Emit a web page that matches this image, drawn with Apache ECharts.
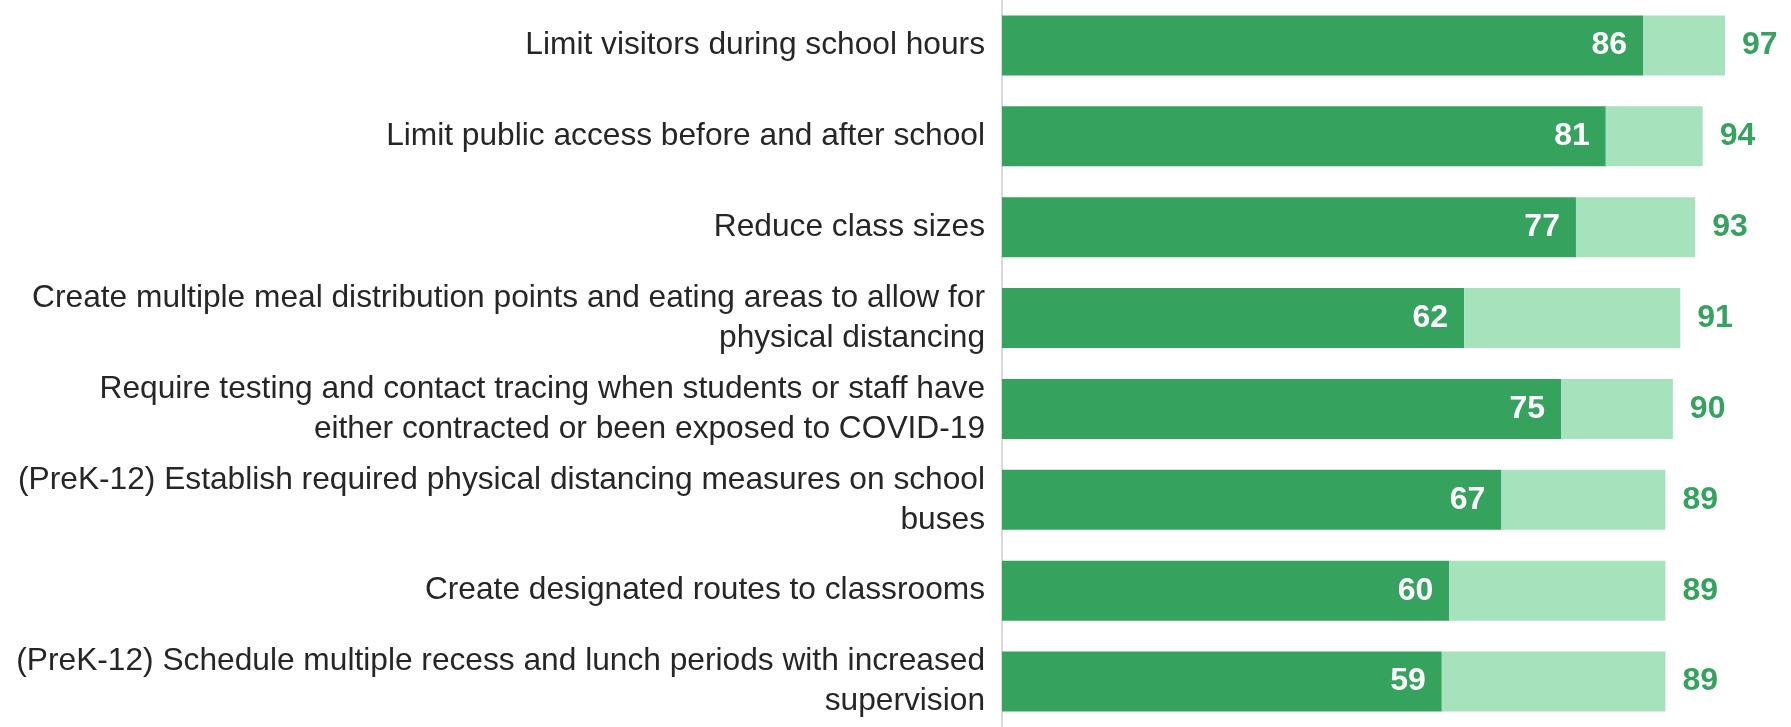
<!DOCTYPE html>
<html>
<head>
<meta charset="utf-8">
<script src="https://cdn.jsdelivr.net/npm/echarts@6/dist/echarts.min.js"></script>
<style>
  html, body { margin: 0; padding: 0; background: #fff; }
  #chart { width: 1791px; height: 727px; }
</style>
</head>
<body>
<div id="chart"></div>
<script>
// categories, top to bottom
const categories = [
  'Limit visitors during school hours',
  'Limit public access before and after school',
  'Reduce class sizes',
  'Create multiple meal distribution points and eating areas to allow for\nphysical distancing',
  'Require testing and contact tracing when students or staff have\neither contracted or been exposed to COVID-19',
  '(PreK-12) Establish required physical distancing measures on school\nbuses',
  'Create designated routes to classrooms',
  '(PreK-12) Schedule multiple recess and lunch periods with increased\nsupervision'
]
const strongValues = [86, 81, 77, 62, 75, 67, 60, 59]
const totalValues = [97, 94, 93, 91, 90, 89, 89, 89]

const DARK = '#35a25e'
const LIGHT = '#a6e2bc'
const FONT = 'Liberation Sans, Arial, sans-serif'

const chart = echarts.init(document.getElementById('chart'))

chart.setOption({
  animation: false,
  grid: {
    left: 1002,
    top: -0.5,
    width: 745.4,
    height: 737
  },
  xAxis: {
    type: 'value',
    min: 0,
    max: 100,
    show: false
  },
  yAxis: {
    type: 'category',
    inverse: true,
    data: categories,
    axisLine: { show: true, lineStyle: { color: '#d9d9d9', width: 2 } },
    axisTick: { show: false },
    axisLabel: {
      margin: 17,
      color: '#262626',
      fontFamily: FONT,
      fontSize: 31.7,
      lineHeight: 40,
      align: 'right',
      padding: [8, 0, 0, 0]
    }
  },
  series: [{
    name: 'Strong',
    type: 'bar',
    stack: 'total',
    barCategoryGap: '34%',
    itemStyle: { color: DARK },
    label: {
      show: true,
      position: 'insideRight',
      distance: 16,
      color: '#fff',
      fontWeight: 'bold',
      fontSize: 32,
      fontFamily: FONT
    },
    data: strongValues
  }, {
    name: 'Total',
    type: 'bar',
    stack: 'total',
    itemStyle: { color: LIGHT },
    label: {
      show: true,
      position: 'right',
      distance: 17,
      color: DARK,
      fontWeight: 'bold',
      fontSize: 32,
      fontFamily: FONT,
      formatter: (p) => totalValues[p.dataIndex]
    },
    data: totalValues.map((t, i) => t - strongValues[i])
  }]
})
</script>
</body>
</html>
